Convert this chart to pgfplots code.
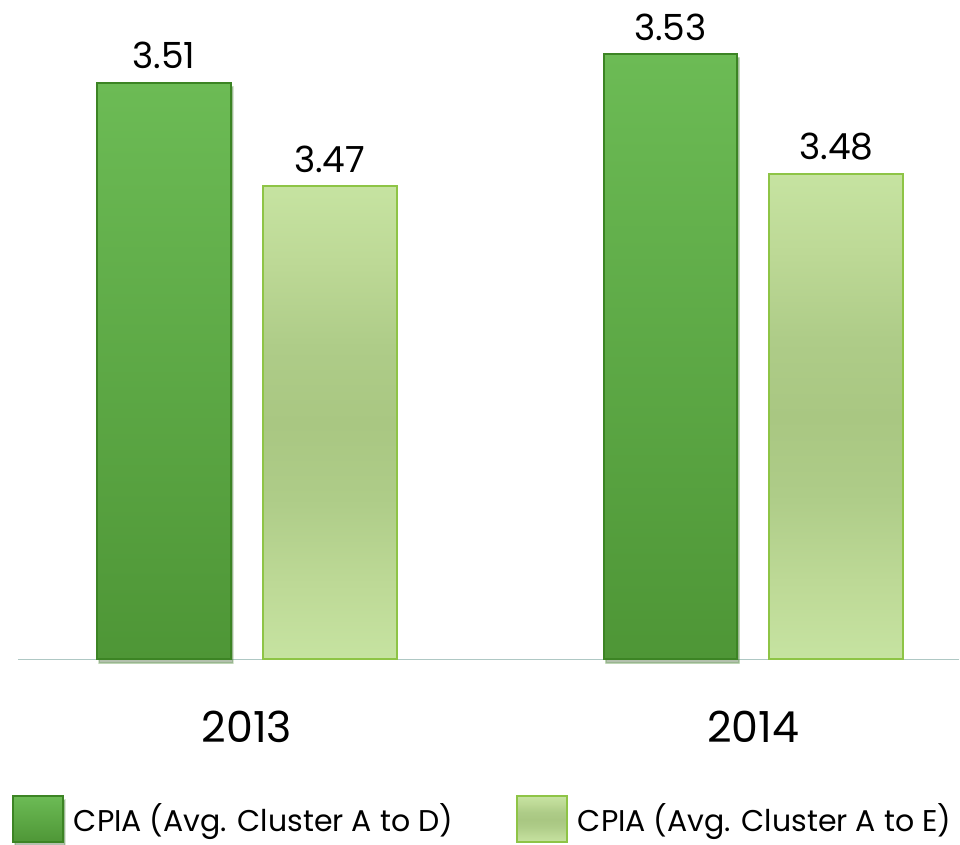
\documentclass[border=0pt]{standalone}
\usepackage{pgfplots}
\pgfplotsset{compat=1.18}
\usepackage{fontspec}
\setmainfont{Poppins}
\usetikzlibrary{shadows}
\definecolor{darkTop}{HTML}{6CBB55}
\definecolor{darkBot}{HTML}{4E9636}
\definecolor{darkEdge}{HTML}{3C8424}
\definecolor{lightOut}{HTML}{C6E3A1}
\definecolor{lightIn}{HTML}{A9C782}
\definecolor{lightMidA}{HTML}{BDD996}
\definecolor{lightMidB}{HTML}{AECC88}
\definecolor{lightEdge}{HTML}{8EC446}
\definecolor{axisLine}{HTML}{AFC8C4}
\pgfdeclareverticalshading{lightglow}{100bp}{color(0bp)=(lightOut); color(25bp)=(lightOut); color(33bp)=(lightMidA); color(42bp)=(lightMidB); color(50bp)=(lightIn); color(58bp)=(lightMidB); color(67bp)=(lightMidA); color(75bp)=(lightOut); color(100bp)=(lightOut)}
\pgfplotsset{
  boxlegend/.style={legend image code/.code={\draw[##1] (0pt,-11.5pt) rectangle (25pt,11.5pt);}},
  darkbar/.style={draw=darkEdge, line width=1pt, top color=darkTop, bottom color=darkBot,
    drop shadow={shadow xshift=1pt, shadow yshift=-2pt, opacity=0.2, fill=black}, boxlegend, bar shift=-41.5pt},
  lightbar/.style={draw=lightEdge, line width=1pt, shade, shading=lightglow, boxlegend, bar shift=41.5pt},
}
\begin{document}
\begin{tikzpicture}
\begin{axis}[
  scale only axis, width=471pt, height=330pt,
  xmin=-0.4517, xmax=1.4063, ymin=3.2735, ymax=3.5485,
  ybar, bar width=67pt,
  axis x line=bottom, axis y line=none,
  x axis line style={-, draw=axisLine, line width=0.75pt},
  xtick={0,1}, xticklabels={2013,2014}, xtick style={draw=none},
  ytick=\empty,
  xticklabel style={anchor=center, yshift=-31.75pt, font=\fontsize{21.4}{24}\selectfont},
  nodes near coords={\pgfmathprintnumber[fixed,fixed zerofill,precision=2,assume math mode=true]{\pgfplotspointmeta}},
  nodes near coords style={font=\fontsize{18}{21}\selectfont, anchor=center, yshift=13.5pt, text=black},
  clip=false,
  legend columns=2,
  legend style={draw=none, fill=none, at={(0,0)}, anchor=west, xshift=-3pt, yshift=-80pt,
    inner sep=0pt, outer sep=0pt, nodes={inner sep=0pt}, font=\fontsize{15}{18}\selectfont,
    /tikz/every odd column/.append style={column sep=5pt},
    /tikz/every even column/.append style={column sep=31.5pt}},
]
\addplot[darkbar] coordinates {(0,3.514)};
\addplot[darkbar, forget plot] coordinates {(1,3.526)};
\addplot[lightbar] coordinates {(0,3.471)};
\addplot[lightbar, forget plot] coordinates {(1,3.476)};
\legend{CPIA (Avg. Cluster A to D), CPIA (Avg. Cluster A to E)}
\path (axis description cs:0,0) ++(-9pt,-92.5pt);
\path (axis description cs:1,1);
\end{axis}
\end{tikzpicture}
\end{document}
